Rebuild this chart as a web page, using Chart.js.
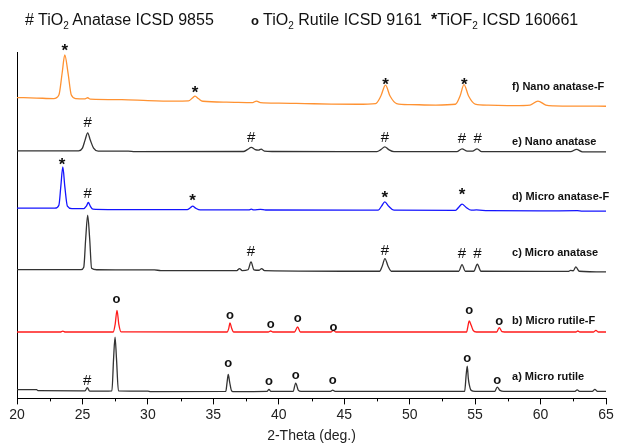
<!DOCTYPE html>
<html>
<head>
<meta charset="utf-8">
<script src="https://cdn.jsdelivr.net/npm/chart.js@4.4.0/dist/chart.umd.min.js"></script>
<style>
  html, body { margin: 0; padding: 0; background: #fff; }
  #wrap { position: relative; width: 625px; height: 447px; }
  #chart { position: absolute; left: 0; top: 0; }
  .lg { position: absolute; top: 11px; font: 16px 'Liberation Sans', Arial, sans-serif; color: #111; white-space: nowrap; line-height: 18px; }
  .lg sub { font-size: 10px; vertical-align: -4px; line-height: 0; }
  .sym { font-weight: bold; }
</style>
</head>
<body>
<div id="wrap">
  <canvas id="chart" width="625" height="447"></canvas>
  <div class="lg" style="left:25px"># TiO<sub>2</sub> Anatase ICSD 9855</div>
  <div class="lg" style="left:251px"><span class="sym" style="font-size:13px">o</span> TiO<sub>2</sub> Rutile ICSD 9161</div>
  <div class="lg" style="left:431px"><span class="sym">*</span>TiOF<sub>2</sub> ICSD 160661</div>
</div>
<script>
// 2-Theta tick labels
const xTicks = [20, 25, 30, 35, 40, 45, 50, 55, 60, 65];

// Series traces: [2-theta, stacked intensity (a.u., offset per pattern)]
const nanoAnataseF = [[20,300.5],[21.5,300],[22.8,299.5],[23.2,303],[23.45,325],[23.65,343],[23.9,325],[24.15,303],[24.5,299.5],[25.2,299.2],[25.4,300.3],[25.6,299],[28,298.5],[30,297.5],[32,297],[33.1,297.2],[33.4,300],[33.6,302],[33.85,299.5],[34.2,296.8],[36,296],[38,295.5],[38.3,297],[38.6,295.5],[40,295],[42,294.5],[44,294],[46,293.8],[47.4,294.5],[47.8,302],[48.15,313],[48.5,302],[49.0,294.5],[50,293.5],[52,293],[53.5,293.8],[53.85,302],[54.15,313.5],[54.5,302],[55,294],[56,293],[58,292.5],[59.2,293],[59.8,297],[60.4,293],[61,292.2],[63,292],[65,291.8]];
const nanoAnatase = [[20,247.3],[24.7,247.3],[25.0,250],[25.2,258],[25.4,265.3],[25.6,258],[25.85,250],[26.2,247],[28.5,247],[29,246.5],[37.3,246.6],[37.6,248.5],[37.9,250.7],[38.2,248.5],[38.45,248],[38.65,249],[38.9,247],[39.5,246.6],[47.5,246.5],[47.8,248.5],[48.1,251.3],[48.4,248.5],[48.8,246.5],[53.6,246.5],[54.0,249.3],[54.4,247],[54.8,247],[55.15,249.3],[55.5,246.5],[62.3,246.4],[62.75,248.7],[63.2,246.3],[65,246.3]];
const microAnataseF = [[20,190],[22.9,190],[23.2,193],[23.35,212],[23.5,231.3],[23.65,212],[23.85,192],[24.2,189.5],[25.1,189.5],[25.3,192],[25.45,195.7],[25.6,192],[25.8,189],[27,188.6],[30,188.5],[33.0,188.5],[33.25,190.5],[33.42,192],[33.65,190],[34,188.3],[37.7,188.3],[37.9,189],[38.1,188.3],[38.6,188.8],[39,188.2],[47.6,188],[47.85,192],[48.1,196.3],[48.4,192],[48.8,188],[53.5,187.8],[53.75,191],[54.0,194],[54.3,191],[54.7,188],[55.1,188.3],[56,187.5],[60,187.3],[62.8,187.5],[63.2,187],[65,187]];
const microAnatase = [[20,128.7],[24.9,128.7],[25.1,131],[25.25,160],[25.4,183],[25.55,160],[25.7,130],[26.1,128.5],[30.5,128.3],[31,127.7],[36.8,127.7],[37.0,129.7],[37.2,127.7],[37.65,128.5],[37.88,136.3],[38.1,128.5],[38.5,128],[38.69,129.7],[38.9,127.7],[47.7,127],[47.9,132],[48.11,139.7],[48.35,132],[48.6,127],[53.75,127],[54.0,133.7],[54.25,127],[54.9,127],[55.17,134],[55.45,127],[62.1,126.8],[62.3,127.8],[62.5,127.5],[62.7,131.3],[62.95,127],[65,126.3]];
const microRutileF = [[20,66.3],[23.3,66.3],[23.5,67.2],[23.7,66.3],[27.35,66.3],[27.5,74],[27.64,88],[27.78,74],[27.95,66.5],[36.05,66.3],[36.18,70],[36.27,75.3],[36.4,70],[36.55,66.3],[39.2,66.3],[39.38,67.3],[39.55,66.3],[41.2,66.3],[41.44,71.3],[41.65,66.3],[44.0,66.3],[44.17,68],[44.35,66.3],[54.35,66.3],[54.45,72],[54.55,77.3],[54.7,73],[54.85,68],[55.1,66.3],[56.65,66.3],[56.84,70.7],[57.05,66.8],[57.5,66.3],[62.7,66.3],[62.85,67.3],[63,66.3],[64.05,66.3],[64.23,68],[64.4,66.3],[65,66.3]];
const microRutile = [[20,8.7],[21.5,8.7],[21.6,7.7],[25.2,7.5],[25.37,10.7],[25.55,7.3],[26.6,7.3],[27.25,7.5],[27.38,40],[27.49,61.3],[27.6,40],[27.75,7.5],[30,7.3],[30.2,6.8],[35.95,7],[36.05,16],[36.14,24],[36.25,16],[36.4,7.5],[36.6,6.8],[39.1,7],[39.25,9],[39.4,7],[41.1,7],[41.29,15.3],[41.5,8],[41.7,7],[43.95,7],[44.12,8.2],[44.3,7],[54.2,7],[54.32,24],[54.4,32.3],[54.48,20],[54.55,14],[54.7,8],[55,7],[56.5,7],[56.69,11.3],[56.9,8],[57.2,7],[62.6,7],[62.8,8.5],[63,7],[63.95,7],[64.15,9],[64.35,7],[65,7]];

// Phase markers [2-theta, height]
const hashMarks = [[25.4,277],[37.9,262],[48.1,262],[54.0,261],[55.2,261],[25.4,205.3],[37.88,147.3],[48.11,148.7],[54.0,145.3],[55.17,145.3],[25.37,19]];
const ringMarks = [[27.6,99],[36.27,82.7],[39.38,74.3],[41.44,80.3],[44.17,71.3],[54.55,88],[56.84,77.3],[36.14,34.7],[39.25,17],[41.29,23],[44.12,18],[54.4,39.7],[56.69,18]];
const starMarks = [[23.65,352],[33.6,310],[48.15,318],[54.17,318],[23.45,238.5],[33.42,202],[48.1,204.7],[54.0,208]];

// Sample labels [text, height]
const sampleLabels = [["f) Nano anatase-F",311],["e) Nano anatase",256.3],["d) Micro anatase-F",201.3],["c) Micro anatase",145.3],["b) Micro rutile-F",77.3],["a) Micro rutile",21.3]];
const labelX = 57.82;

const FONT = "'Liberation Sans', Arial, sans-serif";
Chart.defaults.font.family = FONT;

function ds(data, color) {
  return { data: data.map(p => ({x: p[0], y: p[1]})), borderColor: color, borderWidth: 1.3,
           pointRadius: 0, fill: false, cubicInterpolationMode: 'monotone' };
}

const overlay = {
  id: 'overlay',
  afterDraw(chart) {
    const {ctx, scales: {x, y}, chartArea} = chart;
    ctx.save();
    // minor ticks
    ctx.strokeStyle = '#000'; ctx.lineWidth = 1;
    for (let i = 0; i < xTicks.length - 1; i++) {
      const px = Math.round(x.getPixelForValue((xTicks[i] + xTicks[i+1]) / 2)) + 0.5;
      ctx.beginPath(); ctx.moveTo(px, chartArea.bottom); ctx.lineTo(px, chartArea.bottom + 3); ctx.stroke();
    }
    ctx.fillStyle = '#111';
    ctx.textAlign = 'center';
    ctx.textBaseline = 'alphabetic';
    ctx.font = '15px ' + FONT;
    hashMarks.forEach(m => ctx.fillText('#', x.getPixelForValue(m[0]), y.getPixelForValue(m[1]) + 5.5));
    ctx.font = 'bold 13px ' + FONT;
    ringMarks.forEach(m => ctx.fillText('o', x.getPixelForValue(m[0]), y.getPixelForValue(m[1]) + 3.5));
    ctx.font = 'bold 17px ' + FONT;
    starMarks.forEach(m => ctx.fillText('*', x.getPixelForValue(m[0]), y.getPixelForValue(m[1]) + 10));
    ctx.textAlign = 'left';
    ctx.textBaseline = 'middle';
    ctx.font = 'bold 11px ' + FONT;
    sampleLabels.forEach(l => ctx.fillText(l[0], x.getPixelForValue(labelX), y.getPixelForValue(l[1])));
    ctx.restore();
  }
};

new Chart(document.getElementById('chart'), {
  type: 'line',
  data: {
    datasets: [
      ds(nanoAnataseF, '#FF9232'),
      ds(nanoAnatase, '#333333'),
      ds(microAnataseF, '#1414FF'),
      ds(microAnatase, '#333333'),
      ds(microRutileF, '#FF1A1A'),
      ds(microRutile, '#333333')
    ]
  },
  options: {
    responsive: false,
    animation: false,
    events: [],
    layout: { padding: { left: 17, right: 19, top: 52, bottom: 0 } },
    plugins: { legend: { display: false }, tooltip: { enabled: false } },
    scales: {
      x: {
        type: 'linear', min: 20, max: 65,
        afterBuildTicks: (s) => { s.ticks = xTicks.map(v => ({value: v})); },
        ticks: { color: '#222', font: { size: 14 }, padding: 2, maxRotation: 0, autoSkip: false },
        grid: { drawOnChartArea: false, drawTicks: true, tickLength: 6, color: '#000' },
        border: { display: true, color: '#000', width: 1 },
        title: { display: true, text: '2-Theta (deg.)', color: '#222', font: { size: 14 }, padding: { top: 3, bottom: 2 } }
      },
      y: {
        min: 0, max: 346,
        ticks: { display: false },
        grid: { display: false, drawTicks: false },
        border: { display: true, color: '#000', width: 1 }
      }
    }
  },
  plugins: [overlay]
});
</script>
</body>
</html>
